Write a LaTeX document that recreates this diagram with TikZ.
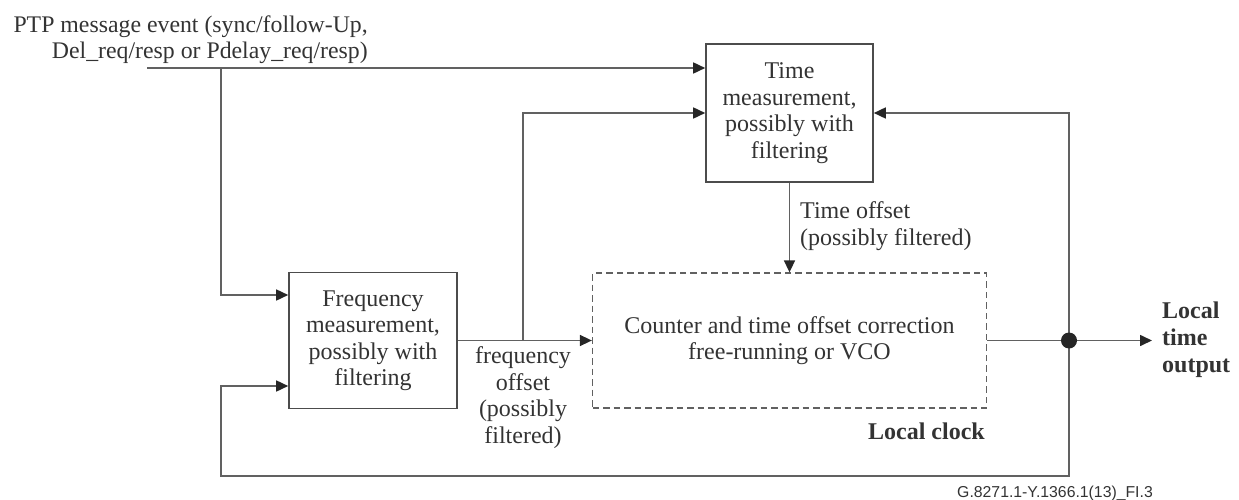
\documentclass[tikz,border=0pt]{standalone}
\usepackage{fontspec}
\setmainfont{Liberation Serif}
\newfontfamily\footfont{Liberation Sans}
\usetikzlibrary{arrows.meta}
\definecolor{lncol}{gray}{0.38}
\definecolor{boxcol}{gray}{0.3}
\definecolor{tipcol}{gray}{0.15}
\definecolor{txcol}{gray}{0.2}
\tikzset{
  blk/.style={draw=boxcol, line width=1.6pt, fill=white, text=txcol, align=center, inner sep=0pt},
  ln/.style={draw=lncol, line width=1.6pt},
  arr/.style={ln, -{Triangle[length=12pt,width=11pt,color=tipcol]}},
  lbl/.style={text=txcol, inner sep=0pt},
  bodyfont/.style={font=\fontsize{24}{26.5}\selectfont},
  boldfont/.style={font=\fontsize{24}{26.8}\selectfont\bfseries},
}
\begin{document}
\begin{tikzpicture}[x=1pt,y=-1pt, bodyfont]
\useasboundingbox (0,0) rectangle (1239,500);
% boxes
\node[blk, minimum width=167pt, minimum height=138pt] (time) at (789.5,113) {Time\\measurement,\\possibly with\\filtering};
\node[blk, minimum width=168pt, minimum height=136pt] (freq) at (373,340.5) {Frequency\\measurement,\\possibly with\\filtering};
\node[blk, dashed, dash pattern=on 6.5pt off 4pt, line width=1.3pt, draw=lncol, minimum width=394pt, minimum height=135pt] (clk) at (789.5,340.5) {Counter and time offset correction\\free-running or VCO};
% coordinates
\coordinate (in0) at (147,68);
\coordinate (br1) at (221,68);
\coordinate (fin1) at (221,295);
\coordinate (fb) at (523,340.5);
\coordinate (dot) at (1069,340.5);
\coordinate (out) at (1152,340.5);
\coordinate (fbk1) at (1069,476);
\coordinate (fbk2) at (221,476);
\coordinate (fbk3) at (221,386);
% connectors
\draw[arr] (in0) -- (in0 -| time.west);
\draw[arr] (br1) -- (fin1) -- (fin1 -| freq.west);
\draw[arr] (freq.east) -- (clk.west);
\draw[arr] (fb) |- (time.west);
\draw[arr] (time.south) -- (clk.north);
\draw[ln] (clk.east) -- (dot);
\draw[arr] (dot) -- (out);
\draw[arr] (dot) |- (time.east);
\draw[arr] (dot) -- (fbk1) -- (fbk2) -- (fbk3) -- (fbk3 -| freq.west);
\fill[tipcol] (dot) circle (8pt);
% labels
\node[lbl, align=right, anchor=east, font=\fontsize{23.8}{26.3}\selectfont] (title) at (368,39.5) {PTP message event (sync/follow-Up,\\Del\_req/resp or Pdelay\_req/resp)};
\node[lbl, align=center] (fol) at (523,397.5) {frequency\\offset\\(possibly\\filtered)};
\node[lbl, align=left, anchor=west] (tol) at (800,226) {Time offset\\(possibly filtered)};
\node[lbl, anchor=base east, boldfont] (lc) at (985,439) {Local clock};
\node[lbl, align=left, anchor=west, boldfont] (lto) at (1162,340) {Local\\time\\output};
\node[lbl, anchor=base east, font=\footfont\fontsize{15.8}{18}\selectfont] (foot) at (1153,497) {G.8271.1-Y.1366.1(13)\_FI.3};
\end{tikzpicture}
\end{document}
